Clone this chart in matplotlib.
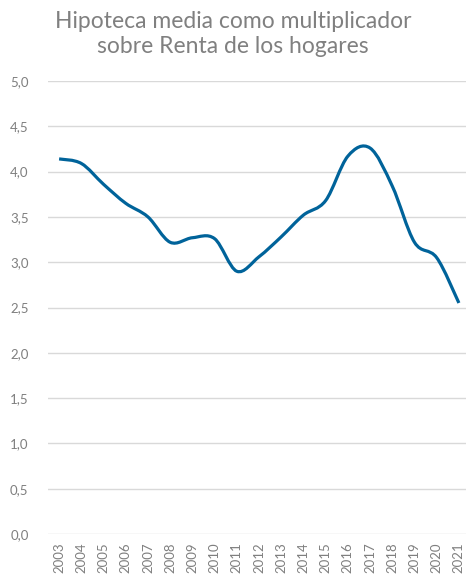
import matplotlib
matplotlib.use("Agg")
import matplotlib.pyplot as plt
from matplotlib.path import Path
from matplotlib.patches import PathPatch
import numpy as np

years = [str(y) for y in range(2003, 2022)]
values = [4.14, 4.09, 3.86, 3.65, 3.50, 3.22, 3.27, 3.26, 2.90, 3.06, 3.28,
          3.52, 3.68, 4.17, 4.26, 3.84, 3.22, 3.05, 2.55]
yticks = [0.0, 0.5, 1.0, 1.5, 2.0, 2.5, 3.0, 3.5, 4.0, 4.5, 5.0]
title = "Hipoteca media como multiplicador\nsobre Renta de los hogares"

plt.rcParams['font.family'] = ['Lato', 'DejaVu Sans']

fig = plt.figure(figsize=(4.66, 5.74), dpi=100)
W, H = 466, 574
ax = fig.add_axes([48 / W, 40 / H, 422 / W, 453 / H])

x = np.arange(len(values), dtype=float)
y = np.array(values, dtype=float)

# Excel-like smoothed line (Catmull-Rom style Bezier)
verts = [(x[0], y[0])]
codes = [Path.MOVETO]
n = len(x)
for i in range(n - 1):
    p0 = np.array([x[max(i - 1, 0)], y[max(i - 1, 0)]])
    p1 = np.array([x[i], y[i]])
    p2 = np.array([x[i + 1], y[i + 1]])
    p3 = np.array([x[min(i + 2, n - 1)], y[min(i + 2, n - 1)]])
    c1 = p1 + (p2 - p0) / 6.0
    c2 = p2 - (p3 - p1) / 6.0
    verts += [tuple(c1), tuple(c2), tuple(p2)]
    codes += [Path.CURVE4] * 3
patch = PathPatch(Path(verts, codes), facecolor='none', edgecolor='#00639a',
                  lw=2.3, capstyle='butt', joinstyle='round', zorder=3)
ax.add_patch(patch)

ax.set_xlim(-0.5, n - 0.5)
ax.set_ylim(0, 5)
ax.set_yticks(yticks)
ax.set_yticklabels([f"{v:.1f}".replace('.', ',') for v in yticks])
ax.set_xticks(x)
ax.set_xticklabels(years, rotation=90, va='top')
for s in ax.spines.values():
    s.set_visible(False)
ax.grid(axis='y', color='#d9d9d9', lw=1.0)
ax.set_axisbelow(True)
ax.tick_params(axis='both', length=0, colors='#7f7f7f', labelsize=9.5)
ax.tick_params(axis='y', pad=14)
ax.tick_params(axis='x', pad=6)

fig.text(233 / W, 1 - 34 / H, title, ha='center', va='center',
         fontsize=16.5, color='#808080', linespacing=1.2)

fig.savefig("out.png", dpi=100)
